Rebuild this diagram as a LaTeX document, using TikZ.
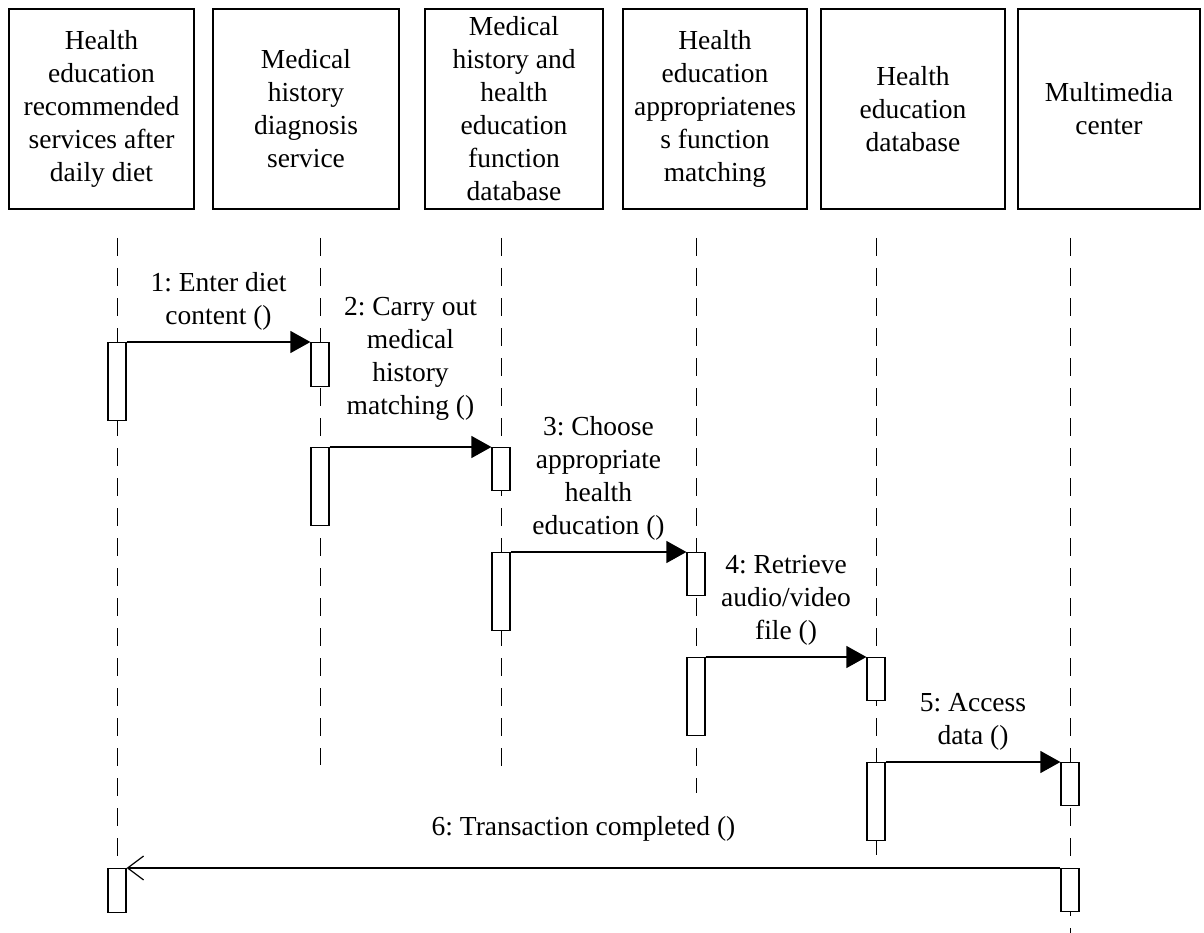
\documentclass[tikz,border=0pt]{standalone}
\usepackage{fontspec}
\setmainfont{Liberation Serif}
\frenchspacing
\usetikzlibrary{positioning,arrows.meta}
\tikzset{
  obj-box/.style={draw,line width=1.2pt,minimum height=200pt,align=center,
    inner sep=2pt,outer sep=0pt,font=\fontsize{27.5}{33}\selectfont},
  act-box/.style={draw,fill=white,line width=1.2pt,minimum width=18pt,
    inner sep=0pt,anchor=north},
  lifeline/.style={line width=1pt,dash pattern=on 18pt off 12pt},
  msg/.style={-{Triangle[length=20pt,width=22pt]},line width=1.2pt},
  msg-return/.style={-{Straight Barb[length=16pt,width=24pt]},line width=1.2pt},
  msg-label/.style={midway,above=9pt,inner sep=2pt,align=center,
    font=\fontsize{27.5}{33}\selectfont},
}

\begin{document}
\begin{tikzpicture}[x=1pt,y=-1pt]
  \useasboundingbox (0,0) rectangle (1204,933);
  % objects
  \node[obj-box,minimum width=185pt] (diet) at (101.5,109)
    {Health\\education\\recommended\\services after\\daily diet};
  \node[obj-box,minimum width=186pt,right=19pt of diet] (diag)
    {Medical\\history\\diagnosis\\service};
  \node[obj-box,minimum width=178pt,right=26pt of diag] (funcdb)
    {Medical\\history and\\health\\education\\function\\database};
  \node[obj-box,minimum width=184pt,right=20pt of funcdb] (match)
    {Health\\education\\appropriatenes\\s function\\matching};
  \node[obj-box,minimum width=184pt,right=14pt of match] (edudb)
    {Health\\education\\database};
  \node[obj-box,minimum width=182pt,right=13pt of edudb] (media)
    {Multimedia\\center};

  % lifelines
  \coordinate (l1) at (117,238);  \coordinate (l1-end) at (117,869);
  \coordinate (l2) at (320,238);  \coordinate (l2-end) at (320,765);
  \coordinate (l3) at (501,238);  \coordinate (l3-end) at (501,777);
  \coordinate (l4) at (696,238);  \coordinate (l4-end) at (696,793);
  \coordinate (l5) at (876,238);  \coordinate (l5-end) at (876,855);
  \coordinate (l6) at (1070,238); \coordinate (l6-end) at (1070,933);
  \draw[lifeline] (l1) -- (l1-end);
  \draw[lifeline] (l2) -- (l2-end);
  \draw[lifeline] (l3) -- (l3-end);
  \draw[lifeline] (l4) -- (l4-end);
  \draw[lifeline] (l5) -- (l5-end);
  \draw[lifeline] (l6) -- (l6-end);

  % activations
  \node[act-box,minimum height=78pt] (a1) at (117,342) {};
  \node[act-box,minimum height=44pt] (a2) at (320,342) {};
  \node[act-box,minimum height=78pt] (a3) at (320,447) {};
  \node[act-box,minimum height=43pt] (a4) at (501,447) {};
  \node[act-box,minimum height=78pt] (a5) at (501,552) {};
  \node[act-box,minimum height=43pt] (a6) at (696,552) {};
  \node[act-box,minimum height=78pt] (a7) at (696,657) {};
  \node[act-box,minimum height=43pt] (a8) at (876,657) {};
  \node[act-box,minimum height=78pt] (a9) at (876,762) {};
  \node[act-box,minimum height=43pt] (a10) at (1070,762) {};
  \node[act-box,minimum height=43pt] (a11) at (1070,868) {};
  \node[act-box,minimum height=44pt] (a12) at (117,868) {};

  % messages
  \draw[msg] (a1.north east) -- node[msg-label] {1: Enter diet\\content ()} (a2.north west);
  \draw[msg] (a3.north east) -- node[msg-label,above=24pt] {2: Carry out\\medical\\history\\matching ()} (a4.north west);
  \draw[msg] (a5.north east) -- node[msg-label] {3: Choose\\appropriate\\health\\education ()} (a6.north west);
  \draw[msg] (a7.north east) -- node[msg-label] {4: Retrieve\\audio/video\\file ()} (a8.north west);
  \draw[msg] (a9.north east) -- node[msg-label] {5: Access\\data ()} (a10.north west);
  \draw[msg-return] (a11.north west) -- node[msg-label,above=24pt,xshift=-10pt] {6: Transaction completed ()} (a12.north east);
\end{tikzpicture}
\end{document}
